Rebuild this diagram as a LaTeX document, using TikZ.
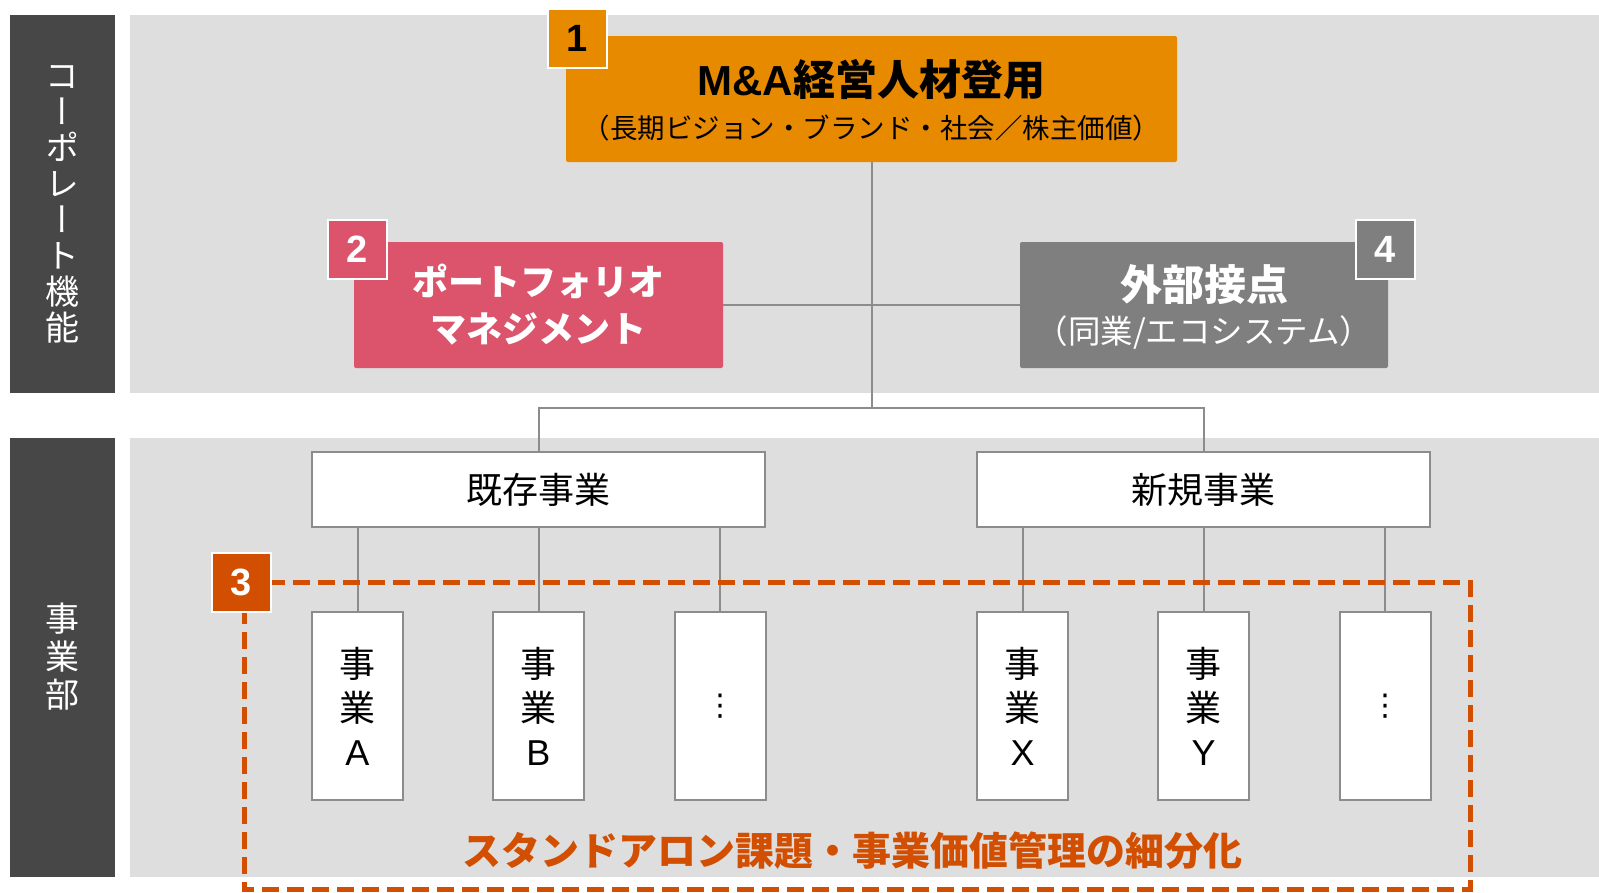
\documentclass[tikz,border=0pt]{standalone}
\usepackage{fontspec}
\setmainfont{Noto Sans CJK JP}
\newfontfamily\jpv[RawFeature=+vert]{Noto Sans CJK JP}
\newfontfamily\lat{Liberation Sans}
\newfontfamily\dejavu{DejaVu Sans}
\definecolor{darkbar}{HTML}{474747}
\definecolor{band}{HTML}{DEDEDE}
\definecolor{mao}{HTML}{E88A00}
\definecolor{pinkc}{HTML}{DB546B}
\definecolor{grayc}{HTML}{7F7F7F}
\definecolor{redo}{HTML}{D24E00}
\definecolor{linec}{HTML}{8C8C8C}
\begin{document}
\begin{tikzpicture}[x=1pt,y=-1pt,
  conn/.style={draw=linec, line width=2pt},
  bigbox/.style={rectangle, rounded corners=2pt, inner sep=0pt, minimum width=#1, minimum height=126pt},
  badge/.style={rectangle, draw=white, line width=2pt, minimum width=59pt, minimum height=59pt, inner sep=0pt, font=\lat\bfseries\fontsize{38}{40}\selectfont},
  grpbox/.style={rectangle, draw=linec, line width=2pt, fill=white, inner sep=0pt, minimum width=453pt, minimum height=75pt, font=\fontsize{36}{40}\selectfont},
  unitbox/.style={rectangle, draw=linec, line width=2pt, fill=white, inner sep=0pt, minimum width=91pt, minimum height=188pt, align=center, font=\fontsize{36}{44}\selectfont},
  sidelbl/.style={text=white, align=center, inner sep=0pt, font=\jpv\fontsize{34}{36}\selectfont}
]
\useasboundingbox (0,0) rectangle (1599,892);
\fill[white] (0,0) rectangle (1599,892);
% bands
\fill[band] (130,15) rectangle (1599,393);
\fill[band] (130,438) rectangle (1599,877);
\fill[darkbar] (10,15) rectangle (115,393);
\fill[darkbar] (10,438) rectangle (115,877);
\node[sidelbl] (corp) at (62.5,204) {コ\\ー\\ポ\\レ\\ー\\ト\\機\\能};
\node[sidelbl, font=\jpv\fontsize{34}{38}\selectfont] (biz) at (62.5,657) {事\\業\\部};

% top boxes
\node[bigbox=611pt, fill=mao] (ma) at (871.5,99) {};
\node[bigbox=369pt, fill=pinkc] (pm) at (538.5,305) {};
\node[bigbox=368pt, fill=grayc] (ext) at (1204,305) {};

% group boxes
\node[grpbox] (ex) at (538.5,489.5) {既存事業};
\node[grpbox] (nw) at (1203.5,489.5) {新規事業};

% connectors
\coordinate (jn) at (871.5,408);
\draw[conn] (ma.south) -- (jn);
\draw[conn] (pm.east) -- (ext.west);
\draw[conn] (ex.north) -- (ex.north |- jn) -- (nw.north |- jn) -- (nw.north);

% unit boxes
\node[unitbox] (ua) at (357.5,706) {事\\業\\{\lat A}};
\node[unitbox] (ub) at (538.5,706) {事\\業\\{\lat B}};
\node[unitbox, font=\dejavu\fontsize{30}{36}\selectfont] (uc) at (720,706) {⋮};
\node[unitbox] (ux) at (1022.5,706) {事\\業\\{\lat X}};
\node[unitbox] (uy) at (1203.5,706) {事\\業\\{\lat Y}};
\node[unitbox, font=\dejavu\fontsize{30}{36}\selectfont] (uz) at (1385,706) {⋮};
\foreach \u/\g in {ua/ex,ub/ex,uc/ex,ux/nw,uy/nw,uz/nw}
  \draw[conn] (\u.north |- \g.south) -- (\u.north);

% box texts
\node[inner sep=0pt, font=\bfseries\fontsize{42}{48}\selectfont] (mat1) at (871.5,80) {{\lat\bfseries M\&A}経営人材登用};
\node[inner sep=0pt, font=\fontsize{27.5}{32}\selectfont] (mat2) at (871.5,128) {（長期ビジョン・ブランド・社会／株主価値）};
\node[inner sep=0pt, text=white, font=\bfseries\fontsize{36}{40}\selectfont] (pmt1) at (538.5,281) {ポートフォリオ};
\node[inner sep=0pt, text=white, font=\bfseries\fontsize{36}{40}\selectfont] (pmt2) at (538.5,329) {マネジメント};
\node[inner sep=0pt, text=white, font=\bfseries\fontsize{42}{46}\selectfont] (ext1) at (1204,285) {外部接点};
\node[inner sep=0pt, text=white, font=\fontsize{32.5}{36}\selectfont] (ext2) at (1204,332) {（同業/エコシステム）};

% dashed frame
\draw[redo, line width=5pt, dash pattern=on 17pt off 8pt] (244,582) rectangle (1470,889);
\node[inner sep=0pt, text=redo, font=\bfseries\fontsize{39}{44}\selectfont] (stand) at (852,851) {スタンドアロン課題・事業価値管理の細分化};

% badges
\node[badge, fill=mao, text=black] (b1) at (577,38) {1};
\node[badge, fill=pinkc, text=white] (b2) at (357.5,249) {2};
\node[badge, fill=redo, text=white] (b3) at (241.5,582.5) {3};
\node[badge, fill=grayc, text=white] (b4) at (1385.5,249) {4};
\end{tikzpicture}
\end{document}
